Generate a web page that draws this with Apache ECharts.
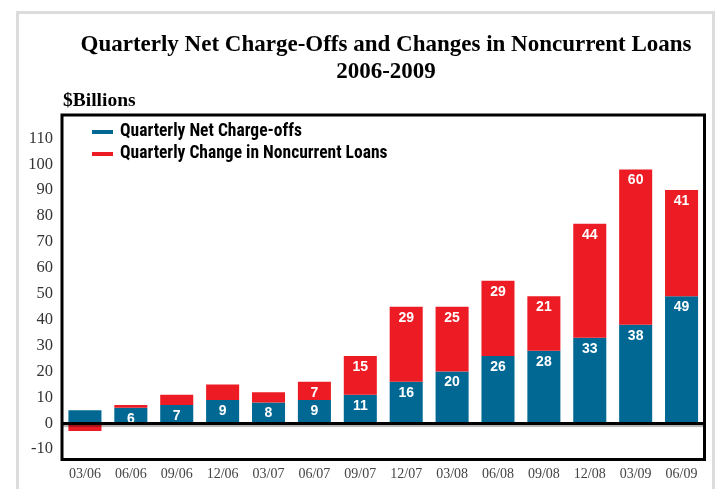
<!DOCTYPE html>
<html>
<head>
<meta charset="utf-8">
<script src="https://cdn.jsdelivr.net/npm/echarts@6/dist/echarts.min.js"></script>
<style>
  html, body { margin: 0; padding: 0; background: #fff; }
  #chart { width: 717px; height: 489px; }
</style>
</head>
<body>
<div id="chart"></div>
<script>
// Quarter-end dates, 2006-2009
const quarters = ['03/06', '06/06', '09/06', '12/06', '03/07', '06/07', '09/07',
                  '12/07', '03/08', '06/08', '09/08', '12/08', '03/09', '06/09'];
// Quarterly net charge-offs ($ billions)
const netChargeOffs = [5, 6, 7, 9, 8, 9, 11, 16, 20, 26, 28, 33, 38, 49];
// Quarterly change in noncurrent loans ($ billions)
const noncurrentChange = [-3, 1, 4, 6, 4, 7, 15, 29, 25, 29, 21, 44, 60, 41];
// Quarters whose bar segment carries no value label
const unlabeledChargeOffs = [0];
const unlabeledNoncurrent = [0, 1, 2, 3, 4];
// Value-axis tick labels
const yTicks = [-10, 0, 10, 20, 30, 40, 50, 60, 70, 80, 90, 100, 110];

const BLUE = '#006893';
const RED = '#ED1C24';
const SERIF = '"Liberation Serif", "DejaVu Serif", serif';
const SANS = '"Liberation Sans", Arial, sans-serif';
const CONDENSED = '"Roboto Condensed", "DejaVu Sans Condensed", sans-serif';

function segmentLabel(hidden) {
  return {
    show: true,
    position: 'insideTop',
    distance: 4,
    color: '#fff',
    fontFamily: SANS,
    fontWeight: 'bold',
    fontSize: 14,
    formatter: p => hidden.includes(p.dataIndex) ? '' : String(p.value)
  };
}

const chart = echarts.init(document.getElementById('chart'), null, { renderer: 'canvas' });

chart.setOption({
  animation: false,
  backgroundColor: '#fff',
  graphic: [
    {
      type: 'rect',
      shape: { x: 17.5, y: 12.5, width: 696, height: 490 },
      style: { fill: 'none', stroke: '#dcdcdc', lineWidth: 3 },
      z: -10
    },
    {
      type: 'text',
      left: 63, top: 91,
      style: { text: '$Billions', font: 'bold 19.5px ' + SERIF, fill: '#000' }
    }
  ],
  title: {
    text: 'Quarterly Net Charge-Offs and Changes in Noncurrent Loans\n2006-2009',
    left: 381,
    top: 27,
    textAlign: 'center',
    textStyle: {
      fontFamily: SERIF,
      fontWeight: 'bold',
      fontSize: 23,
      lineHeight: 27,
      color: '#000'
    }
  },
  legend: {
    orient: 'vertical',
    left: 92,
    top: 123,
    padding: 0,
    itemWidth: 21,
    itemHeight: 4,
    itemGap: 4,
    icon: 'rect',
    selectedMode: false,
    textStyle: { fontFamily: CONDENSED, fontWeight: 'bold', fontSize: 17.5, color: '#000', padding: [0, 0, 0, 2] },
    data: ['Quarterly Net Charge-offs', 'Quarterly Change in Noncurrent Loans']
  },
  grid: {
    left: 62, right: 12.5, top: 115, bottom: 29.5,
    show: true,
    borderColor: '#000',
    borderWidth: 3,
    backgroundColor: 'transparent',
    containLabel: false
  },
  xAxis: {
    type: 'category',
    data: quarters,
    axisLine: { show: false, onZero: false },
    axisTick: { show: false },
    axisLabel: { margin: 8, fontFamily: SERIF, fontSize: 14, color: '#444' },
    splitLine: { show: false }
  },
  yAxis: {
    type: 'value',
    min: -14,
    max: 119,
    axisLine: { show: false },
    axisTick: { show: false },
    splitLine: { show: false },
    axisLabel: {
      customValues: yTicks,
      margin: 9,
      fontFamily: SERIF,
      fontSize: 16.5,
      color: '#333'
    }
  },
  series: [
    {
      name: 'Quarterly Net Charge-offs',
      type: 'bar',
      stack: 'total',
      barWidth: '72%',
      itemStyle: { color: BLUE },
      label: segmentLabel(unlabeledChargeOffs),
      data: netChargeOffs
    },
    {
      name: 'Quarterly Change in Noncurrent Loans',
      type: 'bar',
      stack: 'total',
      barWidth: '72%',
      itemStyle: { color: RED },
      label: segmentLabel(unlabeledNoncurrent),
      data: noncurrentChange,
      markLine: {
        silent: true,
        symbol: 'none',
        label: { show: false },
        lineStyle: { color: '#000', width: 3, type: 'solid', shadowColor: 'rgba(0,0,0,0.3)', shadowOffsetY: 2, shadowBlur: 1 },
        data: [{ yAxis: 0 }]
      }
    }
  ]
});
</script>
</body>
</html>
